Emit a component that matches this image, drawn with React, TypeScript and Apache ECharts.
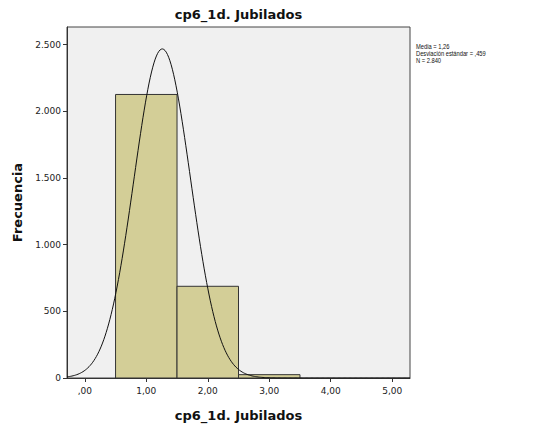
import React, { useEffect, useRef } from "react";
import * as echarts from "echarts";

const TITLE = "cp6_1d. Jubilados";
const X_NAME = "cp6_1d. Jubilados";
const Y_NAME = "Frecuencia";
const BIN_START = [0.5, 1.5, 2.5];
const BIN_END = [1.5, 2.5, 3.5];
const COUNTS = [2127, 688, 25];
const MEAN = 1.26;
const SD = 0.459;
const N = 2840;
const BIN_WIDTH = 1;
const X_TICKS = [0, 1, 2, 3, 4, 5];
const Y_TICKS = [0, 500, 1000, 1500, 2000, 2500];
const STATS_LINES = ["Media = 1,26", "Desviación estándar = ,459", "N = 2.840"];

const X_MIN = -0.29;
const X_MAX = 5.29;
const Y_MAX = 2633;

function fmtX(v: number) {
  const s = v.toFixed(2).replace(".", ",");
  return s.startsWith("0,") ? s.slice(1) : s;
}
function fmtY(v: number) {
  return String(Math.round(v)).replace(/\B(?=(\d{3})+(?!\d))/g, ".");
}

export default function App() {
  const ref = useRef<HTMLDivElement>(null);
  useEffect(() => {
    if (!ref.current) return;
    const chart = echarts.init(ref.current, null, { renderer: "svg" });
    const curve: [number, number][] = [];
    const steps = 280;
    for (let i = 0; i <= steps; i++) {
      const x = X_MIN + ((X_MAX - X_MIN) * i) / steps;
      const z = (x - MEAN) / SD;
      const y = (N * BIN_WIDTH) / (SD * Math.sqrt(2 * Math.PI)) * Math.exp(-0.5 * z * z);
      curve.push([x, y]);
    }
    const font = "'DejaVu Sans', 'Liberation Sans', sans-serif";
    const smallFont = "'Liberation Sans', Arial, sans-serif";
    const bars = COUNTS.map((c, i) => [BIN_START[i], BIN_END[i], c]);
    chart.setOption({
      animation: false,
      textStyle: { fontFamily: font },
      grid: {
        left: 67,
        right: 128,
        top: 27,
        bottom: 43,
        show: true,
        backgroundColor: "#f0f0f0",
        borderColor: "#444",
        borderWidth: 1,
      },
      graphic: [
        {
          type: "text",
          x: 238.5,
          y: 14,
          style: {
            text: TITLE,
            font: `bold 13px ${font}`,
            fill: "#111",
            textAlign: "center",
            textVerticalAlign: "middle",
          },
        },
        {
          type: "text",
          x: 416,
          y: 42.5,
          scaleX: 0.8,
          style: {
            text: STATS_LINES.join("\n"),
            font: `7.2px ${smallFont}`,
            lineHeight: 7.2,
            fill: "#111",
            textAlign: "left",
            textVerticalAlign: "top",
          },
        },
      ],
      xAxis: {
        type: "value",
        min: X_MIN,
        max: X_MAX,
        name: X_NAME,
        nameLocation: "middle",
        nameGap: 31,
        nameTextStyle: { fontWeight: "bold", fontSize: 13, color: "#111", fontFamily: font },
        splitLine: { show: false },
        axisLine: { show: true, onZero: false, lineStyle: { color: "#333" } },
        axisTick: { show: true, length: 4, lineStyle: { color: "#333" }, customValues: X_TICKS },
        axisLabel: {
          customValues: X_TICKS,
          formatter: (v: number) => fmtX(v),
          fontSize: 9,
          color: "#222",
          margin: 8,
        },
      },
      yAxis: {
        type: "value",
        min: 0,
        max: Y_MAX,
        name: Y_NAME,
        nameLocation: "middle",
        nameGap: 42,
        nameTextStyle: { fontWeight: "bold", fontSize: 13, color: "#111", fontFamily: font },
        splitLine: { show: false },
        axisLine: { show: true, onZero: false, lineStyle: { color: "#333" } },
        axisTick: { show: true, length: 4, lineStyle: { color: "#333" }, customValues: Y_TICKS },
        axisLabel: {
          customValues: Y_TICKS,
          formatter: (v: number) => fmtY(v),
          fontSize: 9,
          color: "#222",
          margin: 6,
        },
      },
      series: [
        {
          type: "custom",
          data: bars,
          renderItem: (params: any, api: any) => {
            const p0 = api.coord([api.value(0), api.value(2)]);
            const p1 = api.coord([api.value(1), 0]);
            return {
              type: "rect",
              shape: { x: p0[0], y: p0[1], width: p1[0] - p0[0], height: p1[1] - p0[1] },
              style: { fill: "#d3ce97", stroke: "#333", lineWidth: 1 },
            };
          },
          encode: { x: [0, 1], y: 2 },
          z: 2,
        },
        {
          type: "line",
          data: curve,
          showSymbol: false,
          symbol: "none",
          lineStyle: { color: "#111", width: 1 },
          z: 3,
        },
      ],
    });
    return () => chart.dispose();
  }, []);
  return (
    <div
      ref={ref}
      style={{ position: "fixed", left: 0, top: 0, width: 538, height: 427, background: "#fff" }}
    />
  );
}
